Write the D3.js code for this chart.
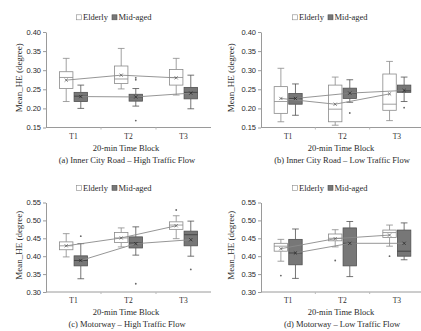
<!DOCTYPE html>
<html><head><meta charset="utf-8">
<script src="https://cdn.jsdelivr.net/npm/d3@7"></script>
<style>
html,body{margin:0;padding:0;background:#fff;}
svg{display:block;font-family:"Liberation Serif","Times New Roman",serif;}
</style></head>
<body><svg id="c" width="421" height="331"></svg>
<script>
const categories = ["T1", "T2", "T3"];
const seriesNames = ["Elderly", "Mid-aged"];
const captions = ["(a) Inner City Road \u2013 High Traffic Flow", "(b) Inner City Road \u2013 Low Traffic Flow", "(c) Motorway \u2013 High Traffic Flow", "(d) Motorway \u2013 Low Traffic Flow"];
const yTicksAB = [0.15, 0.20, 0.25, 0.30, 0.35, 0.40];
const yTicksCD = [0.30, 0.35, 0.40, 0.45, 0.50, 0.55];
// box stats per category: [whiskerLow, q1, median, q3, whiskerHigh]
const aElderly = [[0.218, 0.252, 0.281, 0.296, 0.331], [0.251, 0.265, 0.277, 0.311, 0.357], [0.235, 0.261, 0.281, 0.302, 0.331]];
const aElderlyMean = [0.274, 0.287, 0.280];
const aElderlyOut = [[], [], []];
const aMid = [[0.200, 0.218, 0.232, 0.242, 0.261], [0.206, 0.219, 0.230, 0.237, 0.252], [0.199, 0.225, 0.242, 0.255, 0.287]];
const aMidMean = [0.231, 0.230, 0.240];
const aMidOut = [[], [0.280, 0.275, 0.168], []];
const bElderly = [[0.165, 0.187, 0.218, 0.257, 0.305], [0.156, 0.165, 0.198, 0.261, 0.282], [0.168, 0.195, 0.211, 0.290, 0.323]];
const bElderlyMean = [0.226, 0.211, 0.238];
const bElderlyOut = [[], [], []];
const bMid = [[0.182, 0.211, 0.226, 0.239, 0.264], [0.216, 0.226, 0.239, 0.253, 0.275], [0.218, 0.242, 0.246, 0.261, 0.282]];
const bMidMean = [0.226, 0.240, 0.247];
const bMidOut = [[], [0.188], [0.202]];
const cElderly = [[0.398, 0.418, 0.429, 0.440, 0.463], [0.426, 0.438, 0.451, 0.466, 0.479], [0.449, 0.475, 0.487, 0.496, 0.513]];
const cElderlyMean = [0.429, 0.451, 0.485];
const cElderlyOut = [[], [], [0.529]];
const cMid = [[0.337, 0.373, 0.388, 0.401, 0.435], [0.403, 0.423, 0.437, 0.454, 0.482], [0.400, 0.429, 0.460, 0.470, 0.498]];
const cMidMean = [0.388, 0.435, 0.446];
const cMidOut = [[0.456], [0.323], [0.363]];
const dElderly = [[0.386, 0.414, 0.428, 0.436, 0.447], [0.426, 0.443, 0.450, 0.462, 0.474], [0.428, 0.452, 0.466, 0.473, 0.487]];
const dElderlyMean = [0.421, 0.449, 0.459];
const dElderlyOut = [[0.346], [0.388], [0.400]];
const dMid = [[0.338, 0.376, 0.409, 0.447, 0.476], [0.343, 0.373, 0.436, 0.479, 0.497], [0.390, 0.400, 0.414, 0.473, 0.493]];
const dMidMean = [0.409, 0.436, 0.436];
const dMidOut = [[], [], []];

const svg = d3.select("#c");
const fillCol = ["#ffffff", "#777777"];
const strokeCol = ["#8a8a8a", "#505050"];
const txt = "#2a2a2a";

const panels = [
  {x0: 46, x1: 211, yTop: 32, yBot: 127.5, ticks: yTicksAB, stats: [aElderly, aMid], means: [aElderlyMean, aMidMean], outs: [aElderlyOut, aMidOut], cap: captions[0], legX: 114, ylabX: 22},
  {x0: 261, x1: 424, yTop: 32, yBot: 127.5, ticks: yTicksAB, stats: [bElderly, bMid], means: [bElderlyMean, bMidMean], outs: [bElderlyOut, bMidOut], cap: captions[1], legX: 330, ylabX: 234},
  {x0: 46, x1: 211, yTop: 202.5, yBot: 292, ticks: yTicksCD, stats: [cElderly, cMid], means: [cElderlyMean, cMidMean], outs: [cElderlyOut, cMidOut], cap: captions[2], legX: 114, ylabX: 22},
  {x0: 261, x1: 424, yTop: 202.5, yBot: 292, ticks: yTicksCD, stats: [dElderly, dMid], means: [dElderlyMean, dMidMean], outs: [dElderlyOut, dMidOut], cap: captions[3], legX: 330, ylabX: 234}
];

panels.forEach(p => {
  const g = svg.append("g");
  const y = d3.scaleLinear().domain([p.ticks[0], p.ticks[p.ticks.length - 1]]).range([p.yBot, p.yTop]);
  const x = d3.scaleBand().domain(categories).range([p.x0, p.x1]).padding(0);
  const bw = x.bandwidth();
  const xs = d3.scaleBand().domain(seriesNames).range([bw / 2 - 14, bw / 2 + 14]).paddingInner(0.08);
  const boxW = xs.bandwidth();

  // y axis
  const yAxis = d3.axisLeft(y).tickValues(p.ticks).tickFormat(d3.format(".2f")).tickSize(3).tickSizeOuter(0);
  const ya = g.append("g").attr("transform", `translate(${p.x0},0)`).call(yAxis);
  ya.selectAll("path,line").attr("stroke", "#9a9a9a");
  ya.selectAll("text").attr("font-size", 7.5).attr("fill", txt).attr("x", -5);
  // x axis
  const xa = g.append("g").attr("transform", `translate(0,${p.yBot})`);
  xa.append("line").attr("x1", p.x0).attr("x2", p.x1).attr("stroke", "#9a9a9a");
  categories.forEach((c, i) => {
    if (i > 0) xa.append("line").attr("x1", x(c)).attr("x2", x(c)).attr("y1", 0).attr("y2", 2).attr("stroke", "#bbb");
    xa.append("text").attr("x", x(c) + bw / 2).attr("y", 11).attr("text-anchor", "middle").attr("font-size", 7.5).attr("fill", txt).text(c);
  });

  // boxes
  seriesNames.forEach((s, si) => {
    const stats = p.stats[si];
    categories.forEach((c, ci) => {
      const [lo, q1, med, q3, hi] = stats[ci];
      const bx = x(c) + xs(s);
      const cx = bx + boxW / 2;
      const gg = g.append("g").attr("stroke", strokeCol[si]).attr("stroke-width", 0.8);
      gg.append("line").attr("x1", cx).attr("x2", cx).attr("y1", y(hi)).attr("y2", y(q3));
      gg.append("line").attr("x1", cx).attr("x2", cx).attr("y1", y(q1)).attr("y2", y(lo));
      gg.append("line").attr("x1", cx - boxW / 4).attr("x2", cx + boxW / 4).attr("y1", y(hi)).attr("y2", y(hi));
      gg.append("line").attr("x1", cx - boxW / 4).attr("x2", cx + boxW / 4).attr("y1", y(lo)).attr("y2", y(lo));
      gg.append("rect").attr("x", bx).attr("y", y(q3)).attr("width", boxW).attr("height", y(q1) - y(q3)).attr("fill", fillCol[si]);
      gg.append("line").attr("x1", bx).attr("x2", bx + boxW).attr("y1", y(med)).attr("y2", y(med)).attr("stroke", si ? "#3a3a3a" : "#888");
      p.outs[si][ci].forEach(o => {
        g.append("circle").attr("cx", cx).attr("cy", y(o)).attr("r", 0.9).attr("fill", "#666");
      });
    });
  });
  // mean lines
  seriesNames.forEach((s, si) => {
    const pts = p.means[si].map((m, ci) => [x(categories[ci]) + xs(s) + boxW / 2, y(m)]);
    g.append("path").attr("d", d3.line()(pts)).attr("fill", "none").attr("stroke", "#8a8a8a").attr("stroke-width", 0.9);
    pts.forEach(([px, py]) => {
      g.append("path").attr("d", `M${px - 1.6},${py - 1.6}L${px + 1.6},${py + 1.6}M${px - 1.6},${py + 1.6}L${px + 1.6},${py - 1.6}`)
        .attr("stroke", si ? "#222" : "#555").attr("stroke-width", 0.7);
    });
  });

  // legend (laid out by measured text widths, then centred)
  const lg = g.append("g");
  let cur = 0;
  seriesNames.forEach((n, i) => {
    lg.append("rect").attr("x", cur).attr("y", -3.2).attr("width", 5).attr("height", 5).attr("fill", fillCol[i]).attr("stroke", strokeCol[i]).attr("stroke-width", 0.6);
    const t = lg.append("text").attr("x", cur + 6.5).attr("y", 2).attr("font-size", 8.5).attr("fill", txt).text(n);
    cur += 6.5 + t.node().getComputedTextLength() + 4;
  });
  const total = cur - 4;
  lg.attr("transform", `translate(${p.legX - total / 2},${p.yTop - 14})`);

  // axis titles and caption
  g.append("text").attr("transform", `translate(${p.ylabX},${(p.yTop + p.yBot) / 2 - 2}) rotate(-90)`).attr("text-anchor", "middle").attr("font-size", 9).attr("fill", txt).text("Mean_HE (degree)");
  g.append("text").attr("x", p.x0 + 80).attr("y", p.yBot + 23).attr("text-anchor", "middle").attr("font-size", 8.5).attr("fill", txt).text("20-min Time Block");
  g.append("text").attr("x", p.x0 + 81).attr("y", p.yBot + 35).attr("text-anchor", "middle").attr("font-size", 8.5).attr("fill", txt).text(p.cap);
});
</script></body></html>
